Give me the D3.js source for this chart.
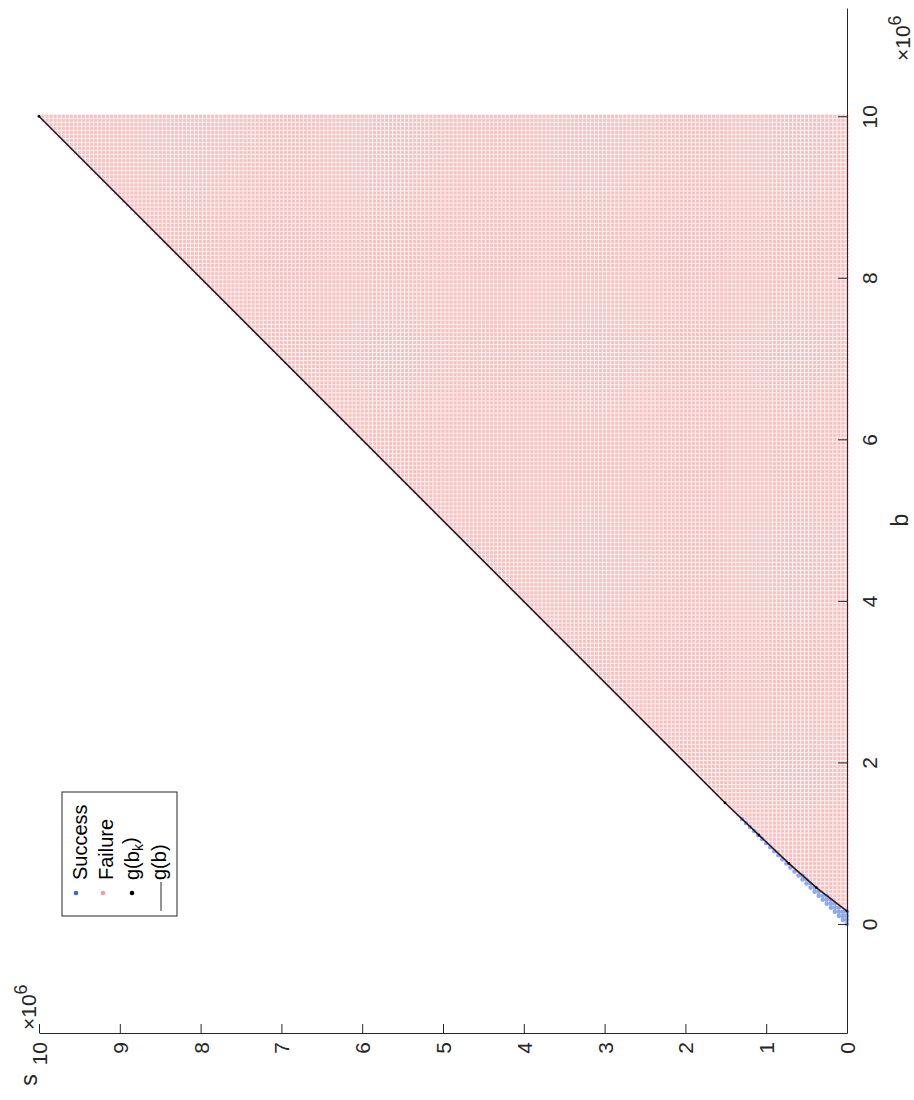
<!DOCTYPE html>
<html lang="en">
<head>
<meta charset="UTF-8">
<title>Success / Failure region</title>
<script src="https://cdn.jsdelivr.net/npm/d3@7"></script>
<style>
html,body {margin:0;padding:0;background:#fff;}
svg {display:block;font-family:"Liberation Sans",Arial,Helvetica,sans-serif;}
</style>
</head>
<body>
<div id="chart"></div>
<script>
// values in units of 1e6
const bLimits = [-1.35, 11.34];
const sLimits = [0, 10];
const bTicks = [0, 2, 4, 6, 8, 10];
const sTicks = [0, 1, 2, 3, 4, 5, 6, 7, 8, 9, 10];
const gridStep = 0.05;
const gridMax = 10;

// g(b)
const gKnotB = [0.16, 0.45, 0.75, 1.1, 1.5, 10];
const gKnotS = [0, 0.38, 0.72, 1.09, 1.51, 10.01];

const legendNames = ['Success', 'Failure', 'g(b_k)', 'g(b)'];

const W = 914, H = 1100;
const ink = '#262626';

const svg = d3.select('#chart').append('svg')
	.attr('width', W)
	.attr('height', H);

// the figure is turned 90 deg: b runs upward, s runs leftward
const yB = d3.scaleLinear().domain(bLimits).range([1033, 8]);
const xS = d3.scaleLinear().domain(sLimits).range([847, 39]);

const gOf = d3.scaleLinear().domain(gKnotB).range(gKnotS).clamp(false);

// sampling grid s <= b
let points = [];
d3.range(0, gridMax + 1e-9, gridStep).forEach(function (b) {
	d3.range(0, b + 1e-9, gridStep).forEach(function (s) {
		points.push({b: b, s: s, ok: s >= gOf(b) - 1e-9});
	});
});

const cellFail = 3.3, cellOk = 4.6;
svg.append('g').selectAll('rect')
	.data(points.filter(d => !d.ok))
	.join('rect')
	.attr('x', d => xS(d.s) - cellFail / 2)
	.attr('y', d => yB(d.b) - cellFail / 2)
	.attr('width', cellFail)
	.attr('height', cellFail)
	.attr('fill', '#f8c2c2');

svg.append('g').selectAll('circle')
	.data(points.filter(d => d.ok))
	.join('circle')
	.attr('cx', d => xS(d.s))
	.attr('cy', d => yB(d.b))
	.attr('r', cellOk / 2)
	.attr('fill', '#8fa9ef');

const knots = gKnotB.map((b, i) => ({b: b, s: gKnotS[i]}));
svg.append('path')
	.datum(knots)
	.attr('fill', 'none')
	.attr('stroke', '#1c1c28')
	.attr('stroke-width', 1.6)
	.attr('d', d3.line().x(d => xS(Math.min(d.s, 10))).y(d => yB(d.b)));

svg.append('g').selectAll('circle')
	.data(knots)
	.join('circle')
	.attr('cx', d => xS(Math.min(d.s, 10)))
	.attr('cy', d => yB(d.b))
	.attr('r', 1.3)
	.attr('fill', '#000');

// axes
const bAxis = d3.axisRight(yB).tickValues(bTicks).tickSizeInner(-9).tickSizeOuter(0).tickFormat(d3.format('d'));
const sAxis = d3.axisBottom(xS).tickValues(sTicks).tickSizeInner(-9).tickSizeOuter(0).tickFormat(d3.format('d'));

const gb = svg.append('g').attr('transform', 'translate(847,0)').call(bAxis);
const gs = svg.append('g').attr('transform', 'translate(0,1033)').call(sAxis);

[gb, gs].forEach(function (g) {
	g.attr('font-family', null).attr('font-size', null);
	g.selectAll('path, line').attr('stroke', ink).attr('stroke-width', 1);
	g.selectAll('text').attr('fill', ink).attr('font-size', 21).attr('x', 0).attr('y', 0).attr('dy', 0);
});
gb.selectAll('.tick text')
	.attr('text-anchor', 'middle')
	.attr('transform', 'translate(30,0) rotate(-90)');
gs.selectAll('.tick text')
	.attr('text-anchor', 'end')
	.attr('transform', 'translate(7.5,9) rotate(-90)');

// axis titles
svg.append('text')
	.attr('transform', 'translate(908,520) rotate(-90)')
	.attr('text-anchor', 'middle')
	.attr('font-size', 23)
	.attr('fill', ink)
	.text('b');
svg.append('text')
	.attr('transform', 'translate(37,1080) rotate(-90)')
	.attr('text-anchor', 'middle')
	.attr('font-size', 23)
	.attr('fill', ink)
	.text('s');

// exponent labels
function expLabel(x, y) {
	const t = svg.append('text')
		.attr('transform', 'translate(' + x + ',' + y + ') rotate(-90)')
		.attr('font-size', 21)
		.attr('fill', ink);
	t.append('tspan').text('\u00d710');
	t.append('tspan').attr('dy', '-0.5em').attr('font-size', '0.85em').text('6');
}
expLabel(910, 61);
expLabel(36, 1030);

// legend
const leg = svg.append('g');
leg.append('rect')
	.attr('x', 62).attr('y', 792)
	.attr('width', 115).attr('height', 124)
	.attr('fill', '#fff')
	.attr('stroke', ink)
	.attr('stroke-width', 1);

const legBase = [87, 113, 139, 166];
const legMark = [76, 103, 132, 161];
const legColor = ['#3566e4', '#f29c9c', '#000', ink];

legendNames.forEach(function (name, i) {
	const t = leg.append('text')
		.attr('transform', 'translate(' + legBase[i] + ',880) rotate(-90)')
		.attr('font-size', 20)
		.attr('fill', '#000');
	if (name.indexOf('_') > 0) {
		const parts = name.split('_');
		t.append('tspan').text(parts[0]);
		t.append('tspan').attr('dy', '0.3em').attr('font-size', '0.7em').text(parts[1].replace(')', ''));
		t.append('tspan').attr('dy', '-0.3em').text(')');
	} else {
		t.text(name);
	}
	if (i < 3) {
		leg.append('circle')
			.attr('cx', legMark[i])
			.attr('cy', 893)
			.attr('r', 2.3)
			.attr('fill', legColor[i]);
	} else {
		leg.append('line')
			.attr('x1', legMark[i]).attr('x2', legMark[i])
			.attr('y1', 882).attr('y2', 911)
			.attr('stroke', legColor[i])
			.attr('stroke-width', 1);
	}
});
</script>
</body>
</html>
